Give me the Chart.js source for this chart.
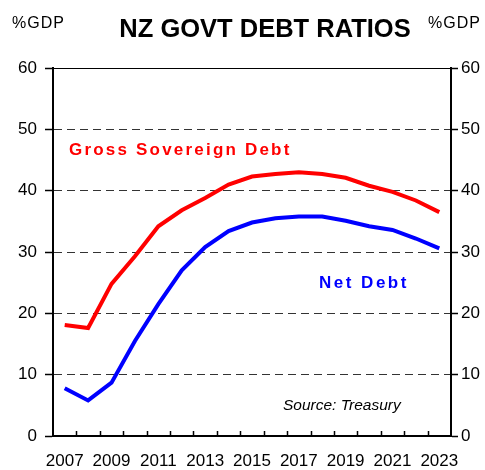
<!DOCTYPE html>
<html>
<head>
<meta charset="utf-8">
<script src="https://cdn.jsdelivr.net/npm/chart.js@4/dist/chart.umd.min.js"></script>
<style>
  html, body { margin: 0; padding: 0; background: #fff; }
  #wrap { position: relative; width: 485px; height: 470px; overflow: hidden; font-family: "Liberation Sans", Arial, sans-serif; }
  #wrap canvas { position: absolute; left: 0; top: 0; }
  .t { position: absolute; white-space: nowrap; }
</style>
</head>
<body>
<div id="wrap">
  <canvas id="c" width="485" height="470"></canvas>
  <div class="t" id="title" style="left:265px; top:16px; transform:translateX(-50%); font-size:25.5px; line-height:25.5px; font-weight:bold; color:#000;">NZ GOVT DEBT RATIOS</div>
  <div class="t" style="left:12px; top:14.5px; font-size:16px; line-height:16px; letter-spacing:1px; color:#000;">%GDP</div>
  <div class="t" style="left:428px; top:14.5px; font-size:16px; line-height:16px; letter-spacing:1px; color:#000;">%GDP</div>
  <div class="t" style="left:69px; top:140.6px; font-size:17px; line-height:17px; font-weight:bold; letter-spacing:2.2px; color:#ff0000;">Gross Sovereign Debt</div>
  <div class="t" style="left:319px; top:273.6px; font-size:17px; line-height:17px; font-weight:bold; letter-spacing:2.5px; color:#0000ff;">Net Debt</div>
  <div class="t" style="left:283px; top:397px; font-size:15.5px; line-height:15.5px; font-style:italic; color:#000;">Source: Treasury</div>
</div>
<script>
// ---- Data (% of GDP) ----
const years = ['2007','2008','2009','2010','2011','2012','2013','2014','2015','2016','2017','2018','2019','2020','2021','2022','2023'];
const xTickLabels = ['2007','2009','2011','2013','2015','2017','2019','2021','2023'];
const grossSovereignDebt = [18.1, 17.6, 24.8, 29.3, 34.2, 36.8, 38.8, 41.0, 42.3, 42.7, 43.0, 42.7, 42.1, 40.8, 39.8, 38.4, 36.5];
const netDebt = [7.8, 5.8, 8.7, 15.5, 21.5, 27.0, 30.8, 33.4, 34.8, 35.5, 35.8, 35.8, 35.1, 34.2, 33.6, 32.2, 30.6];
const yTicks = [0, 10, 20, 30, 40, 50, 60];

const FONT = "'Liberation Sans', Arial, sans-serif";

const innerTicks = {
  id: 'innerTicks',
  afterDraw(chart) {
    const x = chart.scales.x;
    const ctx = chart.ctx;
    const step = x.getPixelForValue(1) - x.getPixelForValue(0);
    const bottom = chart.chartArea.bottom;
    ctx.save();
    ctx.strokeStyle = '#000';
    ctx.lineWidth = 1.5;
    ctx.beginPath();
    for (let i = 1; i < years.length; i++) {
      const px = Math.round(x.getPixelForValue(i) - step / 2) + 0.5;
      ctx.moveTo(px, bottom);
      ctx.lineTo(px, bottom - 5);
    }
    ctx.stroke();
    ctx.restore();
  }
};

new Chart(document.getElementById('c'), {
  type: 'line',
  data: {
    labels: years,
    datasets: [
      { label: 'Gross Sovereign Debt', data: grossSovereignDebt, borderColor: '#ff0000', borderWidth: 4, pointRadius: 0, tension: 0, fill: false },
      { label: 'Net Debt', data: netDebt, borderColor: '#0000ff', borderWidth: 4, pointRadius: 0, tension: 0, fill: false }
    ]
  },
  options: {
    responsive: false,
    devicePixelRatio: 1,
    animation: false,
    events: [],
    layout: { padding: { top: 68, left: 0, right: 0, bottom: 0 } },
    plugins: { legend: { display: false }, tooltip: { enabled: false }, title: { display: false } },
    scales: {
      x: {
        type: 'category',
        offset: true,
        grid: { display: false, drawTicks: false },
        border: { display: true, color: '#000', width: 2 },
        ticks: {
          autoSkip: false, maxRotation: 0, minRotation: 0, padding: 15,
          color: '#000', font: { family: FONT, size: 17 },
          callback: function(v, i) { return xTickLabels.includes(years[i]) ? years[i] : ''; }
        },
        afterFit(scale) { scale.height = 34; }
      },
      y: {
        position: 'left',
        min: 0, max: 60,
        afterBuildTicks(scale) { scale.ticks = yTicks.map(v => ({ value: v })); },
        grid: {
          color: (c) => (c.tick && c.tick.value === 0) ? 'rgba(0,0,0,0)' : (c.tick && c.tick.value === 60 ? '#000' : '#333'),
          lineWidth: 1,
          tickColor: '#000', tickLength: 8, tickWidth: 1.5
        },
        border: { display: true, color: '#000', width: 2, dash: (c) => (c.tick && c.tick.value !== 60) ? [8, 5] : [] },
        ticks: { padding: 8, color: '#000', font: { family: FONT, size: 17 } },
        afterFit(scale) { scale.width = 53; }
      },
      y2: {
        position: 'right',
        min: 0, max: 60,
        afterBuildTicks(scale) { scale.ticks = yTicks.map(v => ({ value: v })); },
        grid: { drawOnChartArea: false, tickColor: '#000', tickLength: 7, tickWidth: 1.5 },
        border: { display: true, color: '#000', width: 2 },
        ticks: { padding: 3, color: '#000', font: { family: FONT, size: 17 } },
        afterFit(scale) { scale.width = 34; }
      }
    }
  },
  plugins: [innerTicks]
});
</script>
</body>
</html>
